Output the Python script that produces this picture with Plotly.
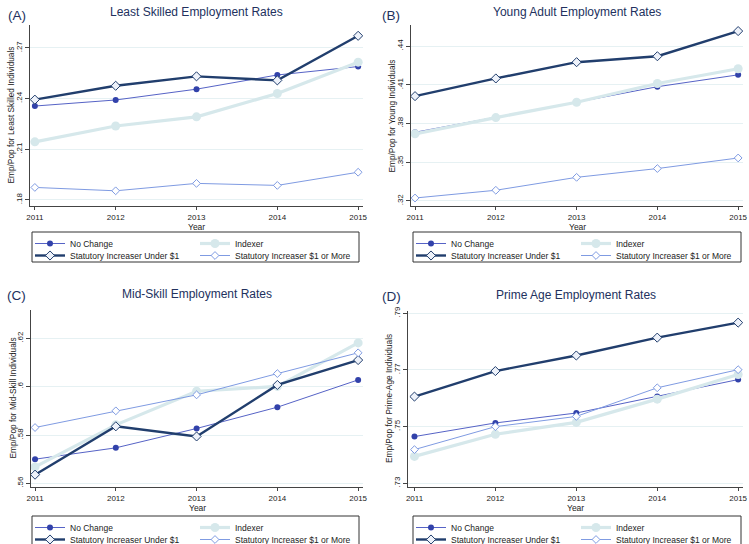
import plotly.graph_objects as go

# ---- data -------------------------------------------------------------
years = [2011, 2012, 2013, 2014, 2015]
year_labels = ["2011", "2012", "2013", "2014", "2015"]
series_names = ["No Change", "Indexer",
                "Statutory Increaser Under $1", "Statutory Increaser $1 or More"]

# (A) least skilled
least_no_change = [0.2356, 0.2392, 0.2456, 0.2540, 0.2590]
least_indexer   = [0.2144, 0.2238, 0.2292, 0.2430, 0.2616]
least_under1    = [0.2394, 0.2476, 0.2532, 0.2508, 0.2772]
least_over1     = [0.1874, 0.1854, 0.1898, 0.1886, 0.1964]
least_ticks     = [0.18, 0.21, 0.24, 0.27]
least_ticktext  = [".18", ".21", ".24", ".27"]

# (B) young adults
young_no_change = [0.3732, 0.3846, 0.3965, 0.4085, 0.4177]
young_indexer   = [0.3720, 0.3846, 0.3965, 0.4110, 0.4224]
young_under1    = [0.4012, 0.4149, 0.4275, 0.4321, 0.4516]
young_over1     = [0.3223, 0.3283, 0.3383, 0.3451, 0.3533]
young_ticks     = [0.32, 0.35, 0.38, 0.41, 0.44]
young_ticktext  = [".32", ".35", ".38", ".41", ".44"]

# (C) mid-skill
mid_no_change = [0.5700, 0.5747, 0.5827, 0.5915, 0.6028]
mid_indexer   = [0.5668, 0.5842, 0.5981, 0.6001, 0.6181]
mid_under1    = [0.5636, 0.5836, 0.5794, 0.6007, 0.6110]
mid_over1     = [0.5831, 0.5900, 0.5966, 0.6054, 0.6140]
mid_ticks     = [0.56, 0.58, 0.60, 0.62]
mid_ticktext  = [".56", ".58", ".6", ".62"]

# (D) prime age
prime_no_change = [0.7465, 0.7513, 0.7548, 0.7606, 0.7666]
prime_indexer   = [0.7395, 0.7473, 0.7515, 0.7597, 0.7684]
prime_under1    = [0.7606, 0.7696, 0.7751, 0.7814, 0.7867]
prime_over1     = [0.7419, 0.7500, 0.7536, 0.7637, 0.7701]
prime_ticks     = [0.73, 0.75, 0.77, 0.79]
prime_ticktext  = [".73", ".75", ".77", ".79"]

# ---- figure geometry (pixels) ----------------------------------------
W, H = 749, 544
FONT = "Liberation Sans, Arial, Helvetica, sans-serif"
TITLE_COLOR = "#22315e"
TEXT_COLOR = "#222222"
AXIS_COLOR = "#444444"
GRID_COLOR = "#e6f1f3"


def px_x(x):
    return x / W


def px_y(y):
    return 1 - y / H


panels = [
    dict(tag="(A)", title="Least Skilled Employment Rates",
         ytitle="Emp/Pop for Least Skilled Individuals",
         series=[least_no_change, least_indexer, least_under1, least_over1],
         ticks=least_ticks, ticktext=least_ticktext,
         box=(30, 363, 25, 206), yrange=(0.1764, 0.2836),
         xrange=(2010.94, 2015.06), legend_box=(32, 359, 232), tag_xy=(6, 15)),
    dict(tag="(B)", title="Young Adult Employment Rates",
         ytitle="Emp/Pop for Young Individuals",
         series=[young_no_change, young_indexer, young_under1, young_over1],
         ticks=young_ticks, ticktext=young_ticktext,
         box=(411, 743, 25, 206), yrange=(0.3161, 0.4563),
         xrange=(2010.95, 2015.06), legend_box=(413, 741, 232), tag_xy=(380, 15)),
    dict(tag="(C)", title="Mid-Skill Employment Rates",
         ytitle="Emp/Pop for Mid-Skill Individuals",
         series=[mid_no_change, mid_indexer, mid_under1, mid_over1],
         ticks=mid_ticks, ticktext=mid_ticktext,
         box=(31, 363, 310, 487), yrange=(0.5585, 0.6317),
         xrange=(2010.95, 2015.06), legend_box=(32, 359, 516), tag_xy=(5, 295)),
    dict(tag="(D)", title="Prime Age Employment Rates",
         ytitle="Emp/Pop for Prime-Age Individuals",
         series=[prime_no_change, prime_indexer, prime_under1, prime_over1],
         ticks=prime_ticks, ticktext=prime_ticktext,
         box=(408, 743, 311, 487), yrange=(0.7287, 0.7908),
         xrange=(2010.92, 2015.06), legend_box=(413, 741, 516), tag_xy=(380, 296)),
]

styles = [
    dict(mode="lines+markers",
         line=dict(color="#5663c6", width=1),
         marker=dict(symbol="circle", size=6, color="#3242aa")),
    dict(mode="lines+markers",
         line=dict(color="#d6e8eb", width=3.2),
         marker=dict(symbol="circle", size=9, color="#d6e8eb")),
    dict(mode="lines+markers",
         line=dict(color="#213e6d", width=2.4),
         marker=dict(symbol="diamond", size=7, color="#eef2fa",
                     line=dict(color="#213e6d", width=1))),
    dict(mode="lines+markers",
         line=dict(color="#7f9be2", width=1),
         marker=dict(symbol="diamond", size=6, color="#ffffff",
                     line=dict(color="#7f9be2", width=1))),
]
# each key is laid out as two rows of two entries:
# row 0 = No Change, Indexer ; row 1 = Under $1, $1 or More
legend_rows = [0, 0, 1, 1]
ROW_OFFSETS = (11.5, 23.5)     # row centres below the key's top edge
KEY_HEIGHT = 30

fig = go.Figure()
layout = dict(
    width=W, height=H,
    margin=dict(l=0, r=0, t=0, b=0, autoexpand=False),
    paper_bgcolor="white", plot_bgcolor="white",
    font=dict(family=FONT, color=TEXT_COLOR, size=8),
    showlegend=True,
)
annotations = []
shapes = []

for i, p in enumerate(panels):
    n = "" if i == 0 else str(i + 1)
    x0, x1, y0, y1 = p["box"]
    kx0, kx1, ky = p["legend_box"]
    row_legends = [f"legend{2 * i + 1 if i else ''}", f"legend{2 * i + 2}"]

    for k, (name, vals) in enumerate(zip(series_names, p["series"])):
        fig.add_trace(go.Scatter(
            x=years, y=vals, name=name,
            xaxis="x" + n, yaxis="y" + n,
            legend=row_legends[legend_rows[k]],
            **styles[k],
        ))

    layout["xaxis" + n] = dict(
        domain=[px_x(x0), px_x(x1)], range=list(p["xrange"]),
        anchor="y" + n, automargin=False,
        tickmode="array", tickvals=years, ticktext=year_labels,
        ticks="outside", ticklen=3, tickcolor=AXIS_COLOR,
        showline=True, linecolor=AXIS_COLOR, linewidth=1,
        showgrid=False, zeroline=False,
        tickfont=dict(size=8, color=TEXT_COLOR),
    )
    layout["yaxis" + n] = dict(
        domain=[px_y(y1), px_y(y0)], range=list(p["yrange"]),
        anchor="x" + n, automargin=False,
        tickmode="array", tickvals=p["ticks"], ticktext=p["ticktext"],
        tickangle=-90,
        ticks="outside", ticklen=4, tickcolor=AXIS_COLOR,
        showline=True, linecolor=AXIS_COLOR, linewidth=1,
        showgrid=True, gridcolor=GRID_COLOR, gridwidth=1,
        zeroline=False,
        tickfont=dict(size=8, color=TEXT_COLOR),
    )

    # two single-row legends stacked inside one framed key
    for r, lg in enumerate(row_legends):
        layout[lg] = dict(
            x=px_x(kx0 - 2), y=px_y(ky + ROW_OFFSETS[r] - 14.5),
            xanchor="left", yanchor="top",
            orientation="h", entrywidth=120, entrywidthmode="pixels",
            bgcolor="rgba(0,0,0,0)", borderwidth=0,
            font=dict(size=8.5, color=TEXT_COLOR, family=FONT),
            itemwidth=30,
        )
    shapes.append(dict(
        type="rect", xref="paper", yref="paper",
        x0=px_x(kx0), x1=px_x(kx1), y0=px_y(ky), y1=px_y(ky + KEY_HEIGHT),
        line=dict(color="#333333", width=1), fillcolor="rgba(0,0,0,0)",
        layer="below"))

    # panel title, panel tag, axis titles
    cx = (x0 + x1) / 2
    annotations.append(dict(
        text=p["title"], x=px_x(cx), y=px_y(y0 - 13 if i < 2 else y0 - 16),
        xref="paper", yref="paper", xanchor="center", yanchor="middle",
        showarrow=False, font=dict(size=12, color=TITLE_COLOR, family=FONT)))
    tx, ty = p["tag_xy"]
    annotations.append(dict(
        text=p["tag"], x=px_x(tx), y=px_y(ty),
        xref="paper", yref="paper", xanchor="left", yanchor="middle",
        showarrow=False, font=dict(size=13.5, color=TITLE_COLOR, family=FONT)))
    annotations.append(dict(
        text=p["ytitle"], x=px_x(x0 - 19), y=px_y((y0 + y1) / 2),
        xref="paper", yref="paper", xanchor="center", yanchor="middle",
        textangle=-90, showarrow=False,
        font=dict(size=8.3, color=TEXT_COLOR, family=FONT)))
    annotations.append(dict(
        text="Year", x=px_x(cx), y=px_y(y1 + 20.5),
        xref="paper", yref="paper", xanchor="center", yanchor="middle",
        showarrow=False, font=dict(size=8.5, color=TEXT_COLOR, family=FONT)))

layout["annotations"] = annotations
layout["shapes"] = shapes
fig.update_layout(**layout)
fig.write_html("out.html")
